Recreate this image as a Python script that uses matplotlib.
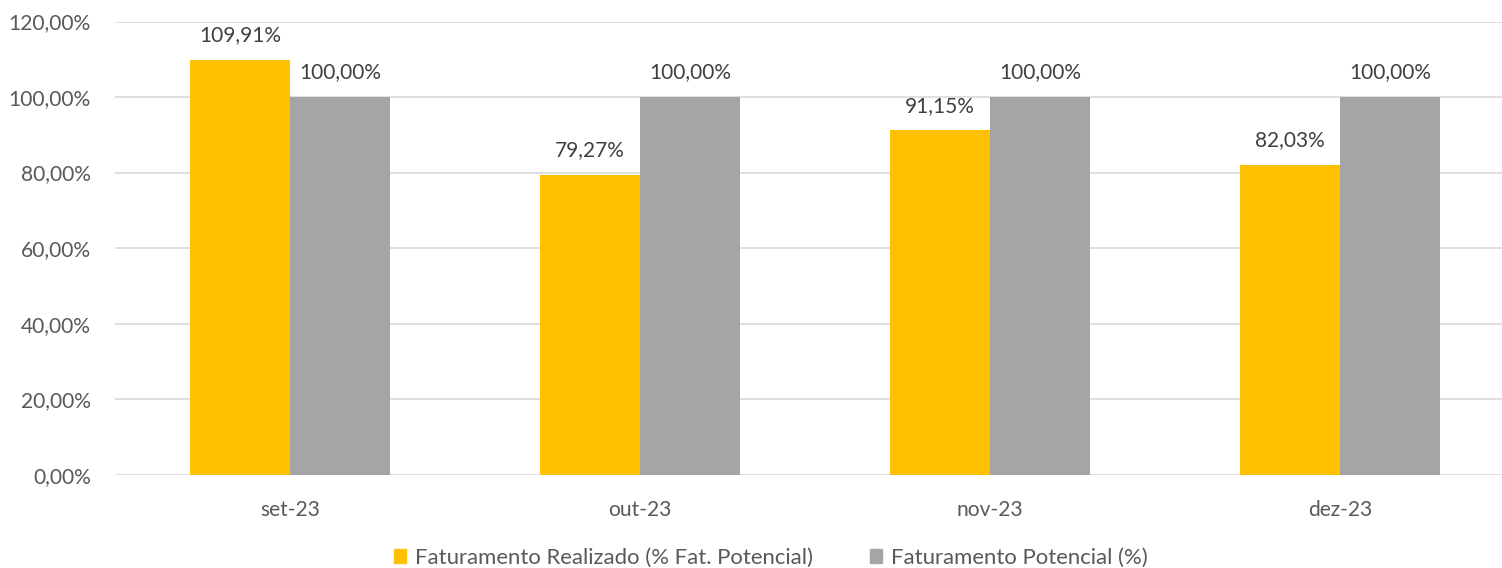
import matplotlib
matplotlib.use("Agg")
import matplotlib.pyplot as plt
from matplotlib.ticker import FuncFormatter
from matplotlib.patches import Patch
import numpy as np

categories = ["set-23", "out-23", "nov-23", "dez-23"]
realizado = [109.91, 79.27, 91.15, 82.03]
potencial = [100.00, 100.00, 100.00, 100.00]
series_names = ["Faturamento Realizado (% Fat. Potencial)", "Faturamento Potencial (%)"]

plt.rcParams['font.family'] = ['Lato', 'DejaVu Sans']

W, H = 1502, 568
DPI = 100
fig = plt.figure(figsize=(W / DPI, H / DPI), dpi=DPI)
renderer = fig.canvas.get_renderer()


def fit_size(s, target_px):
    t = fig.text(0, 0, s, fontsize=10)
    w = t.get_window_extent(renderer=renderer).width
    t.remove()
    return 10 * target_px / w


def fmt(v):
    return f"{v:.2f}".replace(".", ",") + "%"


fs_ytick = fit_size("80,00%", 70)
fs_xtick = fit_size("set-23", 60)
fs_val = fit_size("109,91%", 82)
fs_leg = fit_size(series_names[0], 398)

left_px, right_px = 115, 1515
bot_px, top_px = 474.7, 21.5
ax = fig.add_axes([left_px / W, (H - bot_px) / H, (right_px - left_px) / W, (bot_px - top_px) / H])

x = np.arange(len(categories))
bw = 100 / 350
c1, c2 = "#FFC000", "#A5A5A5"
b1 = ax.bar(x - bw / 2, realizado, width=bw, color=c1, zorder=3)
b2 = ax.bar(x + bw / 2, potencial, width=bw, color=c2, zorder=3)

for bars, vals in ((b1, realizado), (b2, potencial)):
    for r, v in zip(bars, vals):
        ax.annotate(fmt(v), (r.get_x() + r.get_width() / 2, v), xytext=(0, 13.5),
                    textcoords="offset points", ha="center", va="baseline",
                    fontsize=fs_val, color="#404040")

ax.set_xlim(-0.5, len(categories) - 0.5)
ax.set_ylim(0, 120)
ax.set_yticks(np.arange(0, 121, 20))
ax.yaxis.set_major_formatter(FuncFormatter(lambda v, p: fmt(v)))
ax.set_xticks(x)
ax.set_xticklabels(categories)
ax.grid(axis="y", color="#D9D9D9", linewidth=1.2, zorder=0)
for s in ax.spines.values():
    s.set_visible(False)
ax.tick_params(axis="both", length=0, labelcolor="#595959")
ax.tick_params(axis="y", pad=17.3, labelsize=fs_ytick)
ax.tick_params(axis="x", pad=18, labelsize=fs_xtick)

px = fs_leg * DPI / 72
handles = [Patch(color=c1), Patch(color=c2)]
fig.legend(handles, series_names, loc="center", bbox_to_anchor=(770.5 / W, 1 - 558 / H),
           ncol=2, frameon=False, fontsize=fs_leg, labelcolor="#595959",
           handlelength=12.7 / px, handleheight=12.7 / px, handletextpad=8.3 / px,
           columnspacing=57 / px, borderpad=0, borderaxespad=0)

fig.savefig("out.png", dpi=DPI)
